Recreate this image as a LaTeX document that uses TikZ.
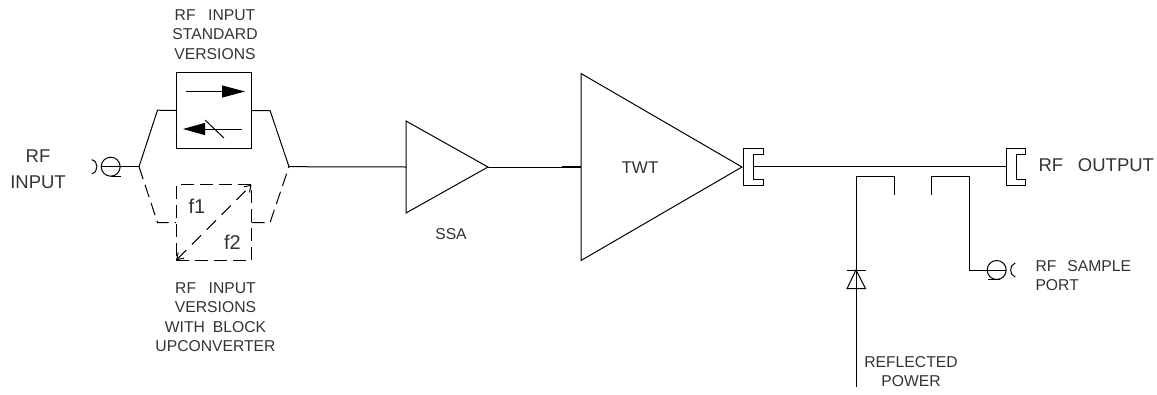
\documentclass[tikz,border=0pt]{standalone}
\usepackage{fontspec}
\setmainfont{Liberation Sans}
\usetikzlibrary{shapes.geometric,arrows.meta}

\begin{document}
\begin{tikzpicture}[x=1pt,y=-1pt,line width=1pt,
  txt/.style={align=center,inner sep=0pt,font=\fontsize{15.7}{19.5}\selectfont,text=black!80},
  bigtxt/.style={txt,font=\fontsize{18.5}{25.5}\selectfont},
  box/.style={draw,minimum size=75.5pt,inner sep=0pt,outer sep=0pt},
  tri/.style={draw,isosceles triangle,isosceles triangle stretches,inner sep=0pt,outer sep=0pt,anchor=lower side},
  coax/.style={draw,circle,minimum size=19pt,inner sep=0pt,outer sep=0pt},
  wave/.style={dash pattern=on 13pt off 6pt},
  flange/.pic={\draw (9.6,-18.5) -- (-9.6,-18.5) -- (-9.6,18.5) -- (9.6,18.5) -- (9.6,12.5) -- (0,12.5) -- (0,-12.5) -- (9.6,-12.5) -- cycle;}]
\useasboundingbox (0,0) rectangle (1157,394);

\node[box] (iso) at (213.8,110.5) {};
\node[box,wave] (conv) at (213.8,222.5) {};
\node[tri,minimum height=82pt,minimum width=92pt] (ssa) at (406,167) {};
\node[tri,minimum height=161pt,minimum width=187pt] (twt) at (581,167) {};
\node[coax] (in) at (110.7,166.7) {};
\node[coax] (sample) at (996.7,270) {};

\coordinate (jl) at (139,166.7);
\coordinate (jr) at (289,166.7);
\coordinate (fl) at (753.5,166.7);
\coordinate (fr) at (1016,166.7);
\coordinate (ka) at (856,270);
\coordinate (refl) at (856,386.7);
\coordinate (cpl) at (894,194.7);
\coordinate (cpr) at (931.3,194.7);
\pic at (fl) {flange};
\pic at (fr) {flange};

% input branches
\draw (in.west) -- (jl);
\draw (jl) -- ++(18.5,-56.5) -- (iso.west);
\draw (iso.east) -- ++(18.5,0) -- (jr);
\draw[wave] (jl) -- ++(18.5,55.8) -- (conv.west);
\draw[wave] (conv.east) -- ++(18.5,0) -- (jr);
\draw (jr) -- (ssa.lower side);
\draw (ssa.apex) -- (twt.lower side);
\draw[line width=1.8pt] ([xshift=-19pt]twt.lower side) -- (twt.lower side);
\draw (fl) -- ([xshift=-9.6pt]fr);

% couplers
\draw (refl) -- (856,176) -- (894,176) -- (cpl);
\draw (cpr) -- (931.3,176) -- (969,176) -- (969,270) -- ([xshift=9.5pt]sample.center);

% input and sample port ends
\draw (in.south) -- ++(10,0);
\draw ([shift={(-19,-7)}]in.center) to[bend left=80,looseness=1.3] ([shift={(-19,7)}]in.center);
\draw (sample.south) ++(-9,0) -- ++(12,0);
\draw ([shift={(18.5,-7)}]sample.center) to[bend right=70,looseness=1.2] ([shift={(18.5,7)}]sample.center);

% diode
\draw (847,270) -- (865.6,270);
\draw (ka) -- (847,288.7) -- (865.6,288.7) -- cycle;

% isolator and converter marks
\coordinate (aa) at (185.5,91.5);
\coordinate (ab) at (245,91.5);
\coordinate (ba) at (241.5,129);
\coordinate (bb) at (183,129);
\draw[-{Triangle[length=23pt,width=12pt]}] (aa) -- (ab);
\draw[-{Triangle[length=22pt,width=12pt]}] (ba) -- (bb);
\draw (205,120) -- (224,138);
\draw[dash pattern=on 13pt off 8pt,{Straight Barb[length=6pt,width=8pt]}-{Straight Barb[length=6pt,width=8pt]}] (conv.south west) -- (conv.north east);

\node[txt] (t1) at (215,34.5) {RF\hspace{.8em}INPUT\\STANDARD\\VERSIONS};
\node[txt] (t2) at (215.5,317) {RF\hspace{.8em}INPUT\\VERSIONS\\WITH\hspace{.5em}BLOCK\\UPCONVERTER};
\node[bigtxt] (t3) at (38,169) {RF\\INPUT};
\node[bigtxt,font=\fontsize{20}{20}\selectfont] (t4) at (197,206) {f1};
\node[bigtxt,font=\fontsize{20}{20}\selectfont] (t5) at (232.5,242) {f2};
\node[txt] (t6) at (451,234) {SSA};
\node[txt,font=\fontsize{17}{20}\selectfont] (t7) at (640,168) {TWT};
\node[bigtxt,anchor=west] (t8) at (1038,165.5) {RF\hspace{.8em}OUTPUT};
\node[txt,align=left,anchor=west] (t9) at (1035,275.5) {RF\hspace{.7em}SAMPLE\\PORT};
\node[txt] (t10) at (911,371.7) {REFLECTED\\POWER};
\end{tikzpicture}
\end{document}
